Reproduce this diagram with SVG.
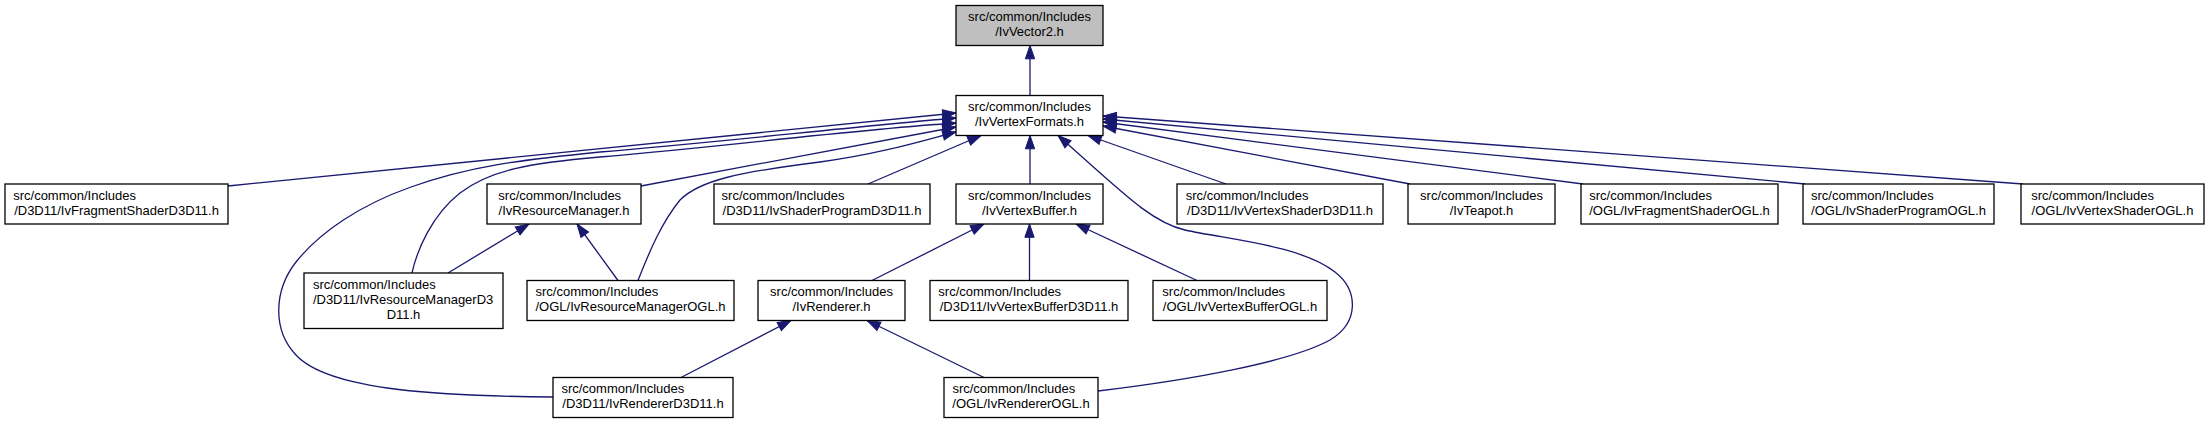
<svg xmlns="http://www.w3.org/2000/svg" width="2209" height="424" viewBox="0 0 2209 424">
<style>
.n rect{fill:#fff;stroke:#000;stroke-width:1.3}
.root rect{fill:#bfbfbf}
text{font-family:"Liberation Sans",Arial,sans-serif;font-size:13px;fill:#000}
.m{text-anchor:middle}
#edges path{fill:none;stroke:#191970;stroke-width:1.3;marker-end:url(#ah)}
</style>
<defs>
<marker id="ah" markerUnits="userSpaceOnUse" orient="auto" markerWidth="14" markerHeight="10" refX="13.3" refY="5" overflow="visible">
<path d="M0,0.33 L13.3,5 L0,9.67 Z" fill="#191970" stroke="#191970" stroke-width="1"/>
</marker>
</defs>
<rect width="2209" height="424" fill="#fff"/>
<g id="edges">
<path d="M1030,95.5 L1030,45.5"/>
<path d="M228,186 L956,113"/>
<path d="M641,186 L956,127"/>
<path d="M412,273 C417,250 432,215 460,193 C490,170 530,163 600,157 C720,147 850,130 956,123"/>
<path d="M638,280.5 C650,250 662,222 680,200 C700,180 740,172 820,162 C880,154 925,140 956,132"/>
<path d="M553,397 C450,396 330,392 296,355 C272,330 274,290 296,262 C320,232 360,205 411,187 C470,166 520,160 600,152 C720,142 850,127 956,118"/>
<path d="M868,184 L981,135.5"/>
<path d="M1030,184 L1030,135.5"/>
<path d="M1098,391 C1190,380 1290,362 1330,340 C1360,322 1358,290 1335,272 C1300,245 1230,240 1185,230 C1150,222 1120,190 1058,135.5"/>
<path d="M1226,184 L1088,135.5"/>
<path d="M1410,184 L1103,126"/>
<path d="M1583,184 L1103,122"/>
<path d="M1805,184 L1103,119"/>
<path d="M2023,184 L1103,116"/>
<path d="M448,273 L529,224"/>
<path d="M618,280.5 L577,224"/>
<path d="M872,280.5 L984,224"/>
<path d="M1029.5,280.5 L1029.5,224"/>
<path d="M1197,280.5 L1076,224"/>
<path d="M681,377.5 L791,320.5"/>
<path d="M984,377.5 L867,320.5"/>
</g>
<g id="n_vector2" class="n root"><rect x="956" y="5.5" width="147" height="40"/><text class="m" x="1029.5" y="21">src/common/Includes</text><text class="m" x="1029.5" y="36">/IvVector2.h</text></g>
<g id="n_vertexformats" class="n"><rect x="956" y="95.5" width="147" height="40"/><text class="m" x="1029.5" y="111">src/common/Includes</text><text class="m" x="1029.5" y="126">/IvVertexFormats.h</text></g>
<g id="n_fragshader_d3d11" class="n"><rect x="5" y="184" width="223" height="40"/><text x="13.2" y="199.5">src/common/Includes</text><text class="m" x="116.5" y="214.5">/D3D11/IvFragmentShaderD3D11.h</text></g>
<g id="n_resourcemanager" class="n"><rect x="487" y="184" width="154" height="40"/><text x="498.3" y="199.5">src/common/Includes</text><text class="m" x="564" y="214.5">/IvResourceManager.h</text></g>
<g id="n_shaderprogram_d3d11" class="n"><rect x="714" y="184" width="216" height="40"/><text x="721.6" y="199.5">src/common/Includes</text><text class="m" x="822" y="214.5">/D3D11/IvShaderProgramD3D11.h</text></g>
<g id="n_vertexbuffer" class="n"><rect x="956" y="184" width="147" height="40"/><text class="m" x="1029.5" y="199.5">src/common/Includes</text><text class="m" x="1029.5" y="214.5">/IvVertexBuffer.h</text></g>
<g id="n_vertexshader_d3d11" class="n"><rect x="1177" y="184" width="206" height="40"/><text x="1185.7" y="199.5">src/common/Includes</text><text class="m" x="1280" y="214.5">/D3D11/IvVertexShaderD3D11.h</text></g>
<g id="n_teapot" class="n"><rect x="1408" y="184" width="147" height="40"/><text class="m" x="1481.5" y="199.5">src/common/Includes</text><text class="m" x="1481.5" y="214.5">/IvTeapot.h</text></g>
<g id="n_fragshader_ogl" class="n"><rect x="1581" y="184" width="197" height="40"/><text x="1589.2" y="199.5">src/common/Includes</text><text class="m" x="1679.5" y="214.5">/OGL/IvFragmentShaderOGL.h</text></g>
<g id="n_shaderprogram_ogl" class="n"><rect x="1803" y="184" width="191" height="40"/><text x="1811" y="199.5">src/common/Includes</text><text class="m" x="1898.5" y="214.5">/OGL/IvShaderProgramOGL.h</text></g>
<g id="n_vertexshader_ogl" class="n"><rect x="2021" y="184" width="183" height="40"/><text x="2031.2" y="199.5">src/common/Includes</text><text class="m" x="2112.5" y="214.5">/OGL/IvVertexShaderOGL.h</text></g>
<g id="n_resourcemanager_d3d11" class="n"><rect x="304" y="273" width="199" height="55.5"/><text x="312.9" y="288.75">src/common/Includes</text><text x="312.9" y="303.75">/D3D11/IvResourceManagerD3</text><text class="m" x="403.5" y="318.75">D11.h</text></g>
<g id="n_resourcemanager_ogl" class="n"><rect x="527" y="280.5" width="207" height="40"/><text x="535.5" y="296">src/common/Includes</text><text class="m" x="630.5" y="311">/OGL/IvResourceManagerOGL.h</text></g>
<g id="n_renderer" class="n"><rect x="758" y="280.5" width="147" height="40"/><text class="m" x="831.5" y="296">src/common/Includes</text><text class="m" x="831.5" y="311">/IvRenderer.h</text></g>
<g id="n_vertexbuffer_d3d11" class="n"><rect x="930" y="280.5" width="198" height="40"/><text x="938.3" y="296">src/common/Includes</text><text class="m" x="1029" y="311">/D3D11/IvVertexBufferD3D11.h</text></g>
<g id="n_vertexbuffer_ogl" class="n"><rect x="1153" y="280.5" width="174" height="40"/><text x="1162.3" y="296">src/common/Includes</text><text class="m" x="1240" y="311">/OGL/IvVertexBufferOGL.h</text></g>
<g id="n_renderer_d3d11" class="n"><rect x="553" y="377.5" width="180" height="40"/><text x="561.4" y="393">src/common/Includes</text><text class="m" x="643" y="408">/D3D11/IvRendererD3D11.h</text></g>
<g id="n_renderer_ogl" class="n"><rect x="944" y="377.5" width="154" height="40"/><text x="952.4" y="393">src/common/Includes</text><text class="m" x="1021" y="408">/OGL/IvRendererOGL.h</text></g>
</svg>
